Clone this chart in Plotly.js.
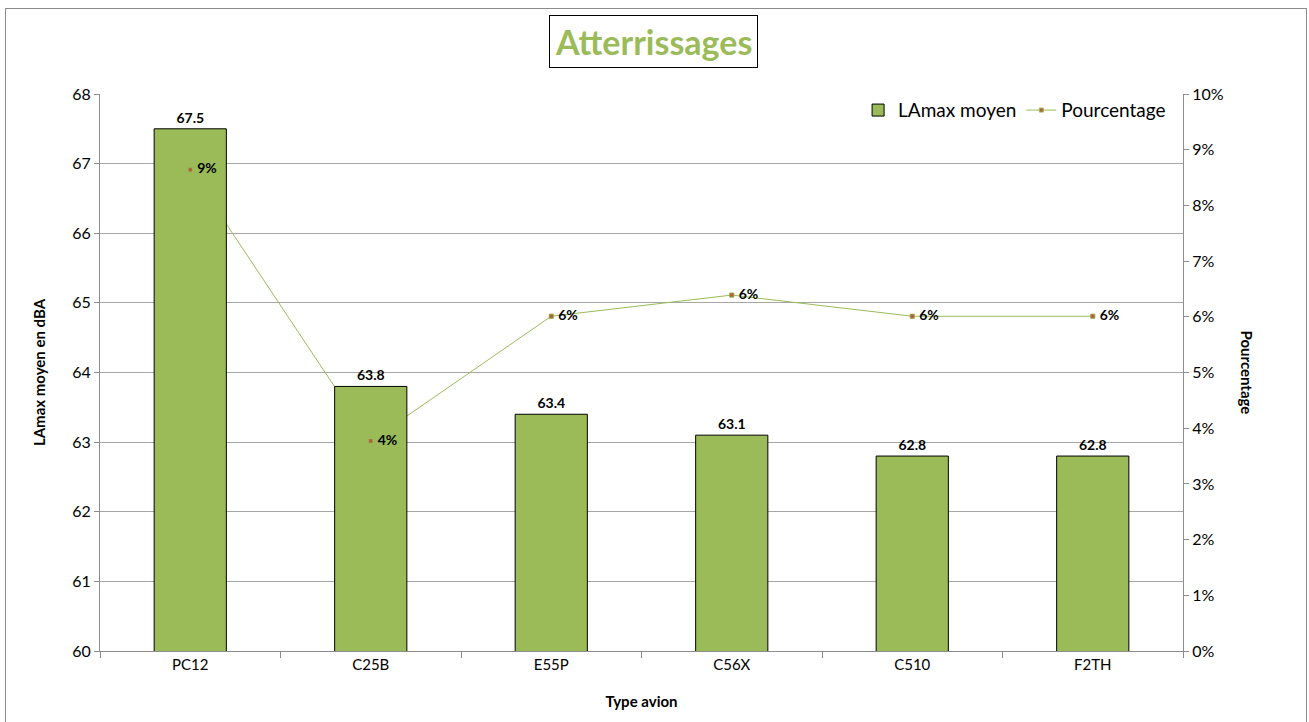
<!DOCTYPE html>
<html>
<head>
<meta charset="utf-8">
<script src="https://cdn.plot.ly/plotly-3.0.1.min.js"></script>
<style>
html,body{margin:0;padding:0;background:#fff;}
#wrap{position:relative;width:1309px;height:722px;}
#chart{width:1309px;height:722px;}
#frame{position:absolute;left:5px;top:8px;width:1302px;height:720px;border:1px solid #8c8c8c;box-sizing:border-box;pointer-events:none;}
</style>
</head>
<body>
<div id="wrap"><div id="chart"></div><div id="frame"></div></div>
<script>
const categories = ["PC12", "C25B", "E55P", "C56X", "C510", "F2TH"];
const lamaxMoyen = [67.5, 63.8, 63.4, 63.1, 62.8, 62.8];
const pourcentage = [0.0864, 0.0377, 0.0601, 0.0639, 0.0601, 0.0601];
const pourcentageLabels = ["9%", "4%", "6%", "6%", "6%", "6%"];
const leftTicks = [60, 61, 62, 63, 64, 65, 66, 67, 68];
const rightTicks = [0, 0.01, 0.02, 0.03, 0.04, 0.05, 0.06, 0.07, 0.08, 0.09, 0.10];

const FONT = "Lato, 'Open Sans', sans-serif";
const green = "#9BBB59";

const traces = [
  {
    type: "bar", name: "LAmax moyen", x: categories, y: lamaxMoyen,
    xaxis: "x", yaxis: "y2", width: 0.4,
    marker: {color: green, line: {color: "#000000", width: 1}},
    text: lamaxMoyen.map(v => v.toFixed(1)), textposition: "outside",
    textfont: {family: FONT, size: 14, color: "#000", weight: "bold"},
    cliponaxis: false, hoverinfo: "x+y"
  },
  {
    type: "scatter", mode: "lines+markers", name: "Pourcentage", x: categories, y: pourcentage,
    xaxis: "x", yaxis: "y",
    line: {color: green, width: 1},
    marker: {symbol: "square", size: 4, color: "#B0603A", line: {color: green, width: 1}}
  },
  {
    type: "scatter", mode: "markers+text", name: "Pourcentage", showlegend: false,
    x: categories, y: pourcentage, xaxis: "x", yaxis: "y3",
    marker: {symbol: "square", size: 4, color: "#B0603A", line: {color: green, width: 0.5}},
    text: pourcentageLabels.map(s => "\u2009\u2009" + s), textposition: "middle right",
    textfont: {family: FONT, size: 14, color: "#000", weight: "bold"},
    cliponaxis: false
  }
];

const layout = {
  width: 1309, height: 722,
  margin: {l: 100, r: 126, t: 94, b: 71},
  paper_bgcolor: "#fff", plot_bgcolor: "rgba(0,0,0,0)",
  font: {family: FONT, size: 15, color: "#000"},
  showlegend: true,
  legend: {orientation: "h", x: 0.989, xanchor: "right", y: 1.005, yanchor: "top",
           font: {family: FONT, size: 19, color: "#000"}, bgcolor: "rgba(255,255,255,0)",
           traceorder: "normal"},
  xaxis: {
    type: "category", showline: true, linecolor: "#8c8c8c", linewidth: 1,
    ticks: "outside", tickson: "boundaries", ticklen: 6, tickcolor: "#8c8c8c",
    tickfont: {family: FONT, size: 15}, showgrid: false,
    title: {text: "Type avion", font: {family: FONT, size: 15, weight: "bold"}, standoff: 24}
  },
  yaxis: {
    side: "right", range: [0, 0.10], tickvals: rightTicks, tickformat: ".0%",
    showline: true, linecolor: "#8c8c8c", ticks: "outside", ticklen: 5, tickcolor: "#8c8c8c",
    tickfont: {family: FONT, size: 16}, showgrid: false, zeroline: false
  },
  yaxis2: {
    overlaying: "y", side: "left", range: [60, 68], tickvals: leftTicks,
    showline: true, linecolor: "#8c8c8c", ticks: "outside", ticklen: 5, tickcolor: "#8c8c8c",
    tickfont: {family: FONT, size: 16}, showgrid: true, gridcolor: "#a6a6a6", gridwidth: 1,
    zeroline: false,
    title: {text: "LAmax moyen en dBA", font: {family: FONT, size: 15, weight: "bold"}, standoff: 22}
  },
  yaxis3: {
    overlaying: "y", side: "right", range: [0, 0.10], visible: false, showgrid: false, zeroline: false
  },
  annotations: [
    {text: "Atterrissages", xref: "paper", yref: "paper", x: 0.5 + 12/1083, y: 1 + 52/557, xanchor: "center", yanchor: "middle",
     showarrow: false, font: {family: FONT, size: 34, color: green, weight: "bold"},
     bordercolor: "#000", borderwidth: 1, borderpad: 5, bgcolor: "#fff"},
    {text: "Pourcentage", xref: "paper", yref: "paper", x: 1.0 + 64/1083, y: 0.5, xanchor: "center", yanchor: "middle",
     textangle: 90, showarrow: false, font: {family: FONT, size: 15, color: "#000", weight: "bold"}}
  ]
};

Plotly.newPlot("chart", traces, layout, {displayModeBar: false, staticPlot: true});
</script>
</body>
</html>
